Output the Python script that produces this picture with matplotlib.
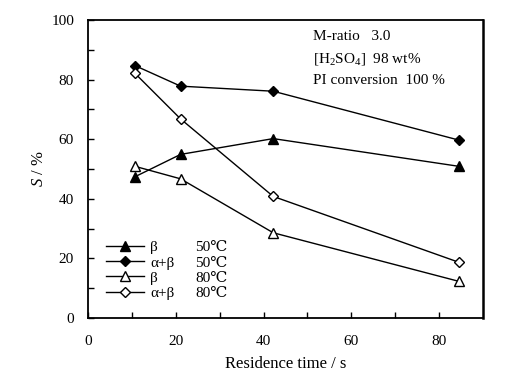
import matplotlib
matplotlib.use("Agg")
import matplotlib.pyplot as plt
from matplotlib.lines import Line2D

plt.rcParams['font.family'] = ['Liberation Serif', 'DejaVu Serif', 'DejaVu Sans']
plt.rcParams['mathtext.fontset'] = 'custom'
plt.rcParams['mathtext.rm'] = 'Liberation Serif'
plt.rcParams['mathtext.it'] = 'Liberation Serif:italic'

time_s = [10.7, 21.1, 42.2, 84.5]
beta_50 = [47.4, 54.9, 60.2, 50.9]
ab_50 = [84.7, 77.8, 76.1, 59.7]
beta_80 = [50.9, 46.7, 28.6, 12.3]
ab_80 = [82.1, 66.8, 40.8, 18.7]

phases = ['β', 'α+β', 'β', 'α+β']
temps = ['50℃', '50℃', '80℃', '80℃']
notes = ['M-ratio   3.0', r'[H$_2$SO$_4$]  98 wt%', 'PI conversion  100 %']

fig = plt.figure(figsize=(5.05, 3.81), dpi=100)
ax = fig.add_axes([88/505, 1-318/381, (483-88)/505, (318-20)/381])

series = [
    (beta_50, '^', 'black'),
    (ab_50, 'D', 'black'),
    (beta_80, '^', 'white'),
    (ab_80, 'D', 'white'),
]
handles = []
for (vals, mk, fc), ph in zip(series, phases):
    ms = 6.5 if mk == '^' else 5.5
    h, = ax.plot(time_s, vals, color='black', lw=1.0, marker=mk, ms=ms,
                 mfc=fc, mec='black', mew=1.0, label=ph)
    handles.append(h)

blank = [Line2D([], [], color='none') for _ in temps]
leg = ax.legend(handles + blank, phases + temps, ncol=2, loc='lower left',
                bbox_to_anchor=(0.03, 0.04), frameon=False, fontsize=11,
                handlelength=2.5, handletextpad=0.4, labelspacing=0.1,
                columnspacing=-1.55, borderaxespad=0)

ax.set_xlim(0, 90)
ax.set_ylim(0, 100)
ax.set_xticks(range(0, 90, 20))
ax.set_xticks(range(10, 90, 20), minor=True)
ax.set_yticks(range(0, 101, 20))
ax.set_yticks(range(10, 100, 20), minor=True)
ax.tick_params(which='both', direction='in', top=False, right=False)
ax.tick_params(which='major', length=4, width=1, labelsize=11)
ax.tick_params(which='minor', length=4, width=1)
ax.tick_params(axis='x', which='major', pad=12)
ax.tick_params(axis='y', which='major', pad=10)
for s in ax.spines.values():
    s.set_linewidth(1.3)
ax.spines['right'].set_linewidth(1.8)

ax.set_xlabel('Residence time / s', fontsize=12, labelpad=6)
ax.set_ylabel(r'$\mathit{S}$ / %', fontsize=12, labelpad=3)

for i, t in enumerate(notes):
    ax.text(312.7/505, 1 - (37 + 22*i)/381, t, transform=fig.transFigure,
            fontsize=11, va='center', ha='left')

fig.savefig('out.png', dpi=100)
